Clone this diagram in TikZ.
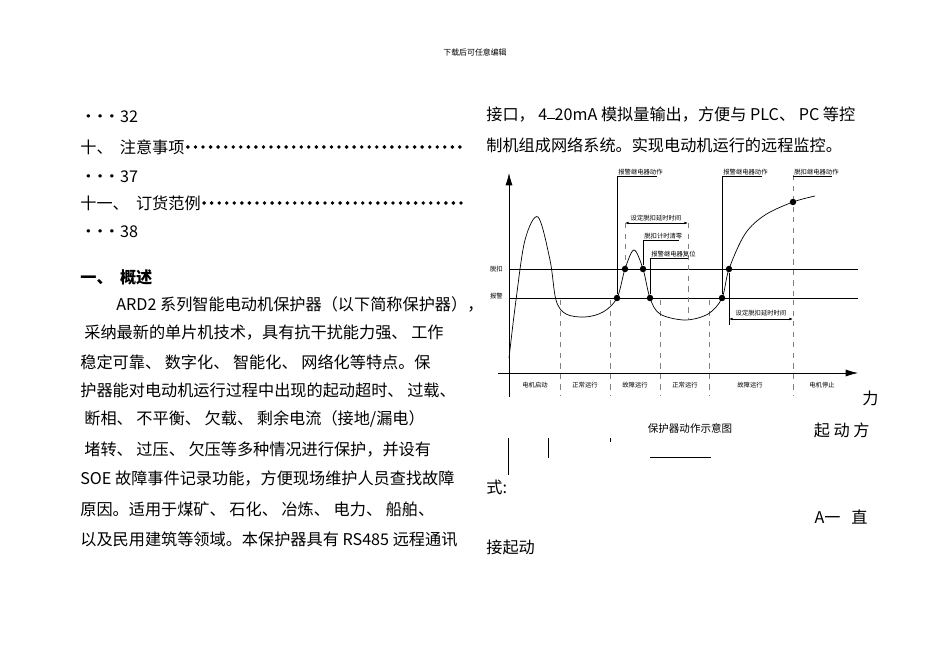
\documentclass[tikz,border=0pt]{standalone}
\usepackage{fontspec}
\setmainfont{Liberation Serif}
\newfontfamily\cjk{Noto Sans CJK SC}
\usetikzlibrary{arrows.meta}
\newcommand\tridot{•\kern-2.5pt•\kern-2.5pt•}
\begin{document}
\begin{tikzpicture}[x=0.02cm,y=-0.02cm,
  body/.style={anchor=west,inner sep=0pt,font=\cjk\fontsize{9.2}{11}\selectfont},
  tiny/.style={inner sep=0pt,font=\cjk\fontsize{3.6}{4}\selectfont},
  leader/.style={line width=2.2pt,line cap=round,dash pattern=on 0pt off 4.3pt},
  guide/.style={dashed,thin,gray},
  dot/.style={circle,fill,inner sep=1.3pt}]
\useasboundingbox (0,0) rectangle (950,672);
%%header
\node[tiny,font=\cjk\fontsize{4.5}{5}\selectfont] (head) at (475,52) {下载后可任意编辑};
%%left column
\node[body] (l1) at (80,117) {\tridot32};
\node[body] (l2) at (80,147) {十、\ \ 注意事项};
\draw[leader] (l2.east)++(3,0) -- (462,147);
\node[body] (l3) at (80,177) {\tridot37};
\node[body] (l4) at (80,203) {十一、\ \ 订货范例};
\draw[leader] (l4.east)++(3,0) -- (462,203);
\node[body] (l5) at (80,232) {\tridot38};
\node[body,font=\cjk\bfseries\fontsize{9.2}{11}\selectfont] (sec) at (80,277) {一、\ \ 概述};
\node[body] (p1) at (116,304) {ARD2 系列智能电动机保护器（以下简称保护器），};
\node[body] (p2) at (84,333) {采纳最新的单片机技术，具有抗干扰能力强、 工作};
\node[body] (p3) at (80,362) {稳定可靠、 数字化、 智能化、 网络化等特点。保};
\node[body] (p4) at (80,390) {护器能对电动机运行过程中出现的起动超时、 过载、};
\node[body] (p5) at (84,419) {断相、 不平衡、 欠载、 剩余电流（接地/漏电）};
\node[body] (p6) at (84,450) {堵转、 过压、 欠压等多种情况进行保护，并设有};
\node[body] (p7) at (80,479) {SOE 故障事件记录功能，方便现场维护人员查找故障};
\node[body] (p8) at (80,509) {原因。适用于煤矿、 石化、 冶炼、 电力、 船舶、};
\node[body] (p9) at (80,539) {以及民用建筑等领域。本保护器具有 RS485 远程通讯};
%%right column
\node[body] (r1) at (486,115) {接口， 4$\overline{\ \ }$20mA 模拟量输出，方便与 PLC、 PC 等控};
\node[body] (r2) at (486,145) {制机组成网络系统。实现电动机运行的远程监控。};
\node[body,anchor=east] (r3) at (870,430) {起\ 动\ 方};
\node[body] (r4) at (486,487) {式:};
\node[body,anchor=east] (r5) at (868,517) {A一\ \ \ 直};
\node[body] (r6) at (486,547) {接起动};
\node[body] (frag) at (862,398) {力};
%%axes
\draw[-{Latex[length=7pt,width=4pt]}] (509,397) -- (509,173);
\draw[-{Latex[length=7pt,width=4pt]}] (498,373) -- (858,373);
\draw[thin] (509,269) -- (858,269);
\draw[thin] (509,298) -- (858,298);
\node[tiny,anchor=east] (trip) at (503,269) {脱扣};
\node[tiny,anchor=east] (warn) at (503,296) {报警};
%%dividers
\foreach \x in {560,610,660,709,793} \draw[guide] (\x,300) -- (\x,395);
\draw[guide] (793,175) -- (793,300);
\draw[guide] (625,223) -- (625,269);
\draw[guide] (688,223) -- (688,318);
%%curve
\draw[thin] plot[smooth,tension=0.55] coordinates {(509,358) (516,300) (525,240) (538,217) (550,260) (556,300) (566,314) (585,317) (603,312) (617,298) (625,269) (634,250) (643,269) (650,298) (660,314) (685,320) (708,314) (722,298) (729,269) (745,234) (765,215) (793,202) (815,196)};
%%marks
\foreach \x/\y/\n in {617/298/a,625/269/b,643/269/c,650/298/d,722/298/e,729/269/f,793/202/g}
  \node[dot] (m\n) at (\x,\y) {};
%%annotations
\draw[thin] (ma) -- (617,176) -- (657,176);
\node[tiny,anchor=south west] (t1) at (618,175) {报警继电器动作};
\draw[thin] (me) -- (722,176) -- (762,176);
\node[tiny,anchor=south west] (t2) at (723,175) {报警继电器动作};
\draw[thin] (793,176) -- (832,176);
\node[tiny,anchor=south west] (t3) at (794,175) {脱扣继电器动作};
\draw[thin,{Latex[length=2pt,width=1.5pt]}-{Latex[length=2pt,width=1.5pt]}] (625,223) -- (688,223);
\node[tiny,anchor=south] (t4) at (656,221) {设定脱扣延时时间};
\draw[thin] (mc) -- (643,240) -- (679,240);
\node[tiny,anchor=south west] (t5) at (644,239) {脱扣计时清零};
\draw[thin] (md) -- (650,258) -- (688,258);
\node[tiny,anchor=south west] (t6) at (651,257) {报警继电器复位};
\draw[thin] (mf) -- (729,325);
\draw[thin,{Latex[length=2pt,width=1.5pt]}-{Latex[length=2pt,width=1.5pt]}] (729,319) -- (793,319);
\node[tiny,anchor=south] (t7) at (761,316) {设定脱扣延时时间};
%%phases
\foreach \x/\t in {535/电机启动,585/正常运行,635/故障运行,685/正常运行,750/故障运行,822/电机停止}
  \node[tiny] at (\x,385) {\t};
\node[inner sep=0pt,font=\cjk\fontsize{6}{7}\selectfont] (cap) at (690,428) {保护器动作示意图};
%%stray marks
\draw[thin] (508,438) -- (508,475);
\draw[thin] (548,438) -- (548,458);
\draw[thin] (610,438) -- (610,442);
\draw[thin] (650,457) -- (711,457);
\end{tikzpicture}
\end{document}
